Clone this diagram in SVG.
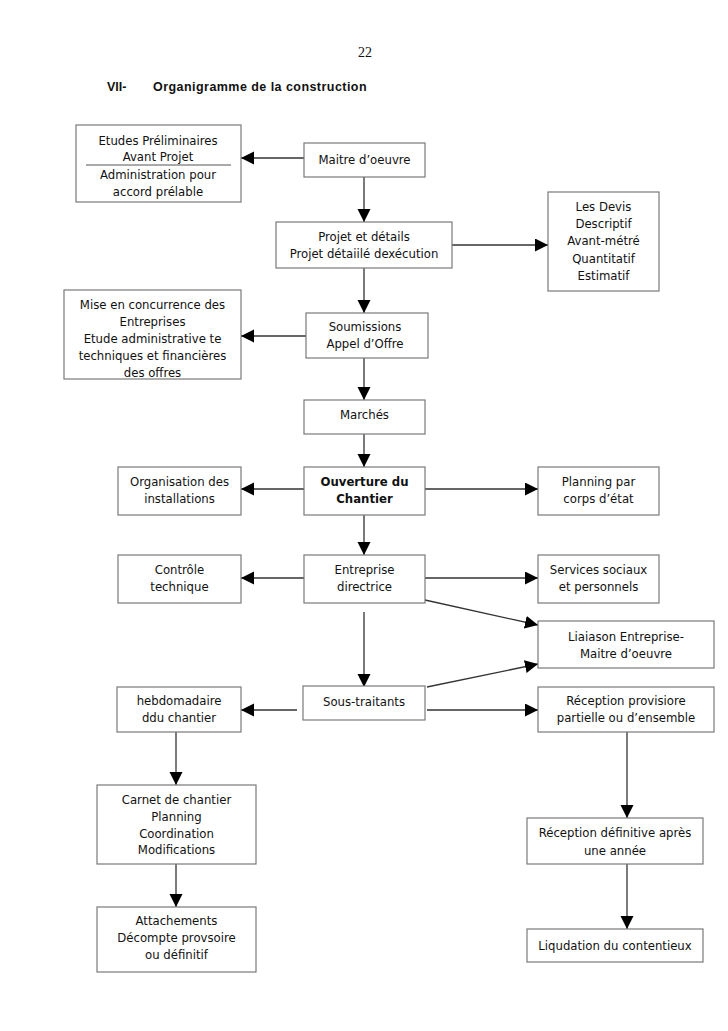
<svg xmlns="http://www.w3.org/2000/svg" width="728" height="1031" viewBox="0 0 728 1031">
<defs>
<marker id="ah" markerUnits="userSpaceOnUse" markerWidth="14" markerHeight="14" refX="13" refY="6.5" orient="auto">
<path d="M0,0 L13,6.5 L0,13 z" fill="#000"/>
</marker>
<style>
.box{fill:#fff;stroke:#7a7a7a;stroke-width:1.2}
.t{font-family:"DejaVu Sans Condensed","DejaVu Sans",sans-serif;font-size:13px;fill:#111;text-anchor:middle}
.b{font-weight:bold}
.c{fill:none;stroke:#333;stroke-width:1.3;marker-end:url(#ah)}
.hd{font-family:"Liberation Sans",Arial,sans-serif;font-size:12.5px;font-weight:bold;fill:#111}
</style>
</defs>
<rect width="728" height="1031" fill="#fff"/>
<text x="365" y="57" font-family="Liberation Serif,serif" font-size="14" text-anchor="middle" fill="#111">22</text>
<text class="hd" x="107" y="91">VII-</text>
<text class="hd" x="153" y="91" letter-spacing="0.45">Organigramme de la construction</text>

<g id="connectors">
<path class="c" d="M304,158 H241"/>
<path class="c" d="M364,177 V222"/>
<path class="c" d="M452,245 H548"/>
<path class="c" d="M364,268 V313"/>
<path class="c" d="M306,336 H241"/>
<path class="c" d="M364,358 V400"/>
<path class="c" d="M364,434 V467"/>
<path class="c" d="M304,489 H241"/>
<path class="c" d="M425,489 H538"/>
<path class="c" d="M364,515 V555"/>
<path class="c" d="M304,578 H241"/>
<path class="c" d="M425,578 H538"/>
<path class="c" d="M425,600 L538,625"/>
<path class="c" d="M364,612 V687"/>
<path class="c" d="M427,687 L538,664"/>
<path class="c" d="M297,710 H241"/>
<path class="c" d="M427,710 H538"/>
<path class="c" d="M176,732 V785"/>
<path class="c" d="M176,864 V907"/>
<path class="c" d="M627,732 V818"/>
<path class="c" d="M627,864 V929"/>
</g>

<g id="etudes"><rect class="box" x="76" y="125" width="165" height="77"/>
<text class="t" x="158" y="145">Etudes Préliminaires</text>
<text class="t" x="158" y="161">Avant Projet</text>
<line x1="86" y1="165" x2="231" y2="165" stroke="#555" stroke-width="1"/>
<text class="t" x="158" y="179">Administration pour</text>
<text class="t" x="158" y="196">accord prélable</text></g>

<g id="maitre"><rect class="box" x="304" y="143" width="121" height="34"/>
<text class="t" x="364.5" y="164">Maitre d’oeuvre</text></g>

<g id="projet"><rect class="box" x="276" y="222" width="176" height="46"/>
<text class="t" x="364" y="241">Projet et détails</text>
<text class="t" x="364" y="258">Projet détaiilé dexécution</text></g>

<g id="devis"><rect class="box" x="548" y="192" width="111" height="99"/>
<text class="t" x="603.5" y="211">Les Devis</text>
<text class="t" x="603.5" y="228">Descriptif</text>
<text class="t" x="603.5" y="245">Avant-métré</text>
<text class="t" x="603.5" y="263">Quantitatif</text>
<text class="t" x="603.5" y="280">Estimatif</text></g>

<g id="mise"><rect class="box" x="64" y="290" width="177" height="89"/>
<text class="t" x="152.5" y="309">Mise en concurrence des</text>
<text class="t" x="152.5" y="326">Entreprises</text>
<text class="t" x="152.5" y="343">Etude administrative te</text>
<text class="t" x="152.5" y="360">techniques et financières</text>
<text class="t" x="152.5" y="377">des offres</text></g>

<g id="soumissions"><rect class="box" x="306" y="313" width="122" height="45"/>
<text class="t" x="365" y="331">Soumissions</text>
<text class="t" x="365" y="348">Appel d’Offre</text></g>

<g id="marches"><rect class="box" x="304" y="400" width="121" height="34"/>
<text class="t" x="364.5" y="419">Marchés</text></g>

<g id="ouverture"><rect class="box" x="304" y="467" width="121" height="48"/>
<text class="t b" x="364.5" y="486">Ouverture du</text>
<text class="t b" x="364.5" y="503">Chantier</text></g>

<g id="organisation"><rect class="box" x="118" y="467" width="123" height="48"/>
<text class="t" x="179.5" y="486">Organisation des</text>
<text class="t" x="179.5" y="503">installations</text></g>

<g id="planning"><rect class="box" x="538" y="467" width="121" height="48"/>
<text class="t" x="598.5" y="486">Planning par</text>
<text class="t" x="598.5" y="503">corps d’état</text></g>

<g id="entreprise"><rect class="box" x="304" y="555" width="121" height="48"/>
<text class="t" x="364.5" y="574">Entreprise</text>
<text class="t" x="364.5" y="591">directrice</text></g>

<g id="controle"><rect class="box" x="118" y="555" width="123" height="48"/>
<text class="t" x="179.5" y="574">Contrôle</text>
<text class="t" x="179.5" y="591">technique</text></g>

<g id="services"><rect class="box" x="538" y="555" width="121" height="48"/>
<text class="t" x="598.5" y="574">Services sociaux</text>
<text class="t" x="598.5" y="591">et personnels</text></g>

<g id="liaison"><rect class="box" x="538" y="621" width="176" height="47"/>
<text class="t" x="626" y="641">Liaiason Entreprise-</text>
<text class="t" x="626" y="658">Maitre d’oeuvre</text></g>

<g id="sous-traitants"><rect class="box" x="303" y="686" width="122" height="34"/>
<text class="t" x="364" y="706">Sous-traitants</text></g>

<g id="hebdomadaire"><rect class="box" x="117" y="687" width="124" height="45"/>
<text class="t" x="179" y="705">hebdomadaire</text>
<text class="t" x="179" y="722">ddu chantier</text></g>

<g id="reception"><rect class="box" x="538" y="687" width="176" height="45"/>
<text class="t" x="626" y="705">Réception provisiore</text>
<text class="t" x="626" y="722">partielle ou d’ensemble</text></g>

<g id="carnet"><rect class="box" x="97" y="785" width="159" height="79"/>
<text class="t" x="176.5" y="804">Carnet de chantier</text>
<text class="t" x="176.5" y="821">Planning</text>
<text class="t" x="176.5" y="838">Coordination</text>
<text class="t" x="176.5" y="854">Modifications</text></g>

<g id="attachements"><rect class="box" x="97" y="907" width="159" height="65"/>
<text class="t" x="176.5" y="925">Attachements</text>
<text class="t" x="176.5" y="942">Décompte provsoire</text>
<text class="t" x="176.5" y="959">ou définitif</text></g>

<g id="reception-definitive"><rect class="box" x="527" y="818" width="176" height="46"/>
<text class="t" x="615" y="837">Réception définitive après</text>
<text class="t" x="615" y="855">une année</text></g>

<g id="liquidation"><rect class="box" x="527" y="929" width="176" height="33"/>
<text class="t" x="615" y="950">Liqudation du contentieux</text></g>
</svg>
